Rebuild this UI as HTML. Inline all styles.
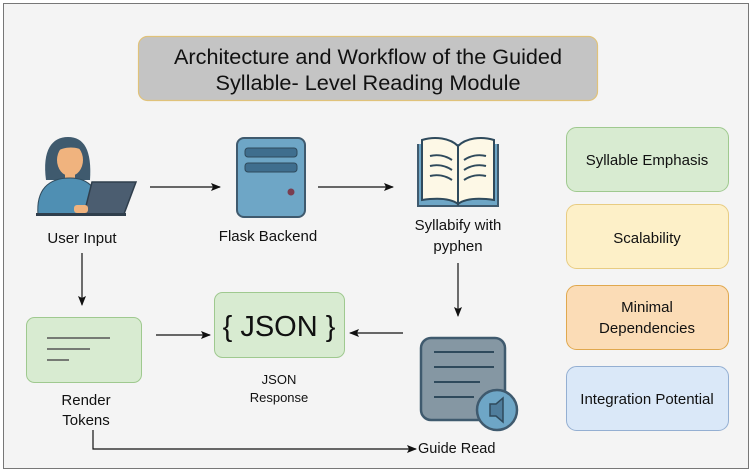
<!DOCTYPE html>
<html><head><meta charset="utf-8"><style>
html,body{margin:0;padding:0;background:#fff;}
svg{display:block;font-family:"Liberation Sans",Arial,sans-serif;}
</style></head><body>
<svg width="753" height="473" viewBox="0 0 753 473" xmlns="http://www.w3.org/2000/svg">
<defs>
<marker id="ah" markerWidth="10" markerHeight="8" refX="9" refY="4" orient="auto" markerUnits="userSpaceOnUse">
<path d="M0,0 L10,4 L0,8 L2,4 Z" fill="#111"/></marker>
</defs>
<rect x="3.5" y="3.5" width="745" height="465" fill="#f4f4f4" stroke="#777" stroke-width="1"/>
<!-- title -->
<rect x="138.5" y="36.5" width="459" height="64" rx="9" fill="#c4c4c4" stroke="#e0c27a" stroke-width="1.2"/>
<text x="368" y="64" font-size="21" text-anchor="middle" fill="#111" textLength="388" lengthAdjust="spacingAndGlyphs">Architecture and Workflow of the Guided</text>
<text x="368" y="90" font-size="21" text-anchor="middle" fill="#111" textLength="305" lengthAdjust="spacingAndGlyphs">Syllable- Level Reading Module</text>

<!-- user icon -->
<g>
<path d="M46,180 C42,150 52,137 68,137 C84,137 92,150 90,180 Z" fill="#3f5a6e"/>
<ellipse cx="70" cy="160" rx="13" ry="16" fill="#f0b37e"/>
<path d="M56,152 C58,140 82,138 85,152 C78,146 64,146 56,152 Z" fill="#3f5a6e"/>
<rect x="65" y="172" width="10" height="8" fill="#f0b37e"/>
<path d="M38,215 C36,190 48,178 70,178 C90,178 100,190 100,215 Z" fill="#4f8fb3" stroke="#2f4a5c" stroke-width="1"/>
<path d="M92,182 L136,182 L124,214 L84,214 Z" fill="#4b5d70" stroke="#2f3e4c" stroke-width="1.5"/>
<rect x="36" y="213" width="90" height="3" fill="#2f3e4c"/>
<rect x="74" y="205" width="14" height="8" rx="3" fill="#f0b37e"/>
</g>
<text x="82" y="243" font-size="15" text-anchor="middle" fill="#111">User Input</text>

<!-- server -->
<rect x="237" y="138" width="68" height="79" rx="7" fill="#6ea6c6" stroke="#3f5a6e" stroke-width="2"/>
<rect x="245" y="148" width="52" height="9" rx="3" fill="#3f6e8e" stroke="#2f4a5c"/>
<rect x="245" y="163" width="52" height="9" rx="3" fill="#3f6e8e" stroke="#2f4a5c"/>
<circle cx="291" cy="192" r="3.5" fill="#7a3e50"/>
<text x="268" y="241" font-size="15" text-anchor="middle" fill="#111">Flask Backend</text>

<!-- book -->
<path d="M418,144 L418,206 L458,206 L498,206 L498,144" fill="#6ea6c6" stroke="#3f5a6e" stroke-width="2"/>
<path d="M422,140 C435,136 450,138 458,146 L458,204 C450,198 436,198 422,200 Z" fill="#fdf8e6" stroke="#2f4a5c" stroke-width="2"/>
<path d="M494,140 C481,136 466,138 458,146 L458,204 C466,198 480,198 494,200 Z" fill="#fdf8e6" stroke="#2f4a5c" stroke-width="2"/>
<g stroke="#2f4a5c" stroke-width="2" fill="none">
<path d="M430,156 C438,154 446,156 452,160"/><path d="M430,166 C438,164 446,166 452,170"/><path d="M430,176 C438,174 446,176 452,180"/>
<path d="M486,156 C478,154 470,156 464,160"/><path d="M486,166 C478,164 470,166 464,170"/><path d="M486,176 C478,174 470,176 464,180"/>
</g>
<text x="458" y="230" font-size="15" text-anchor="middle" fill="#111">Syllabify with</text>
<text x="458" y="251" font-size="15" text-anchor="middle" fill="#111">pyphen</text>

<!-- arrows -->
<g stroke="#111" stroke-width="1.2" fill="none">
<line x1="150" y1="187" x2="220" y2="187" marker-end="url(#ah)"/>
<line x1="318" y1="187" x2="393" y2="187" marker-end="url(#ah)"/>
<line x1="82" y1="253" x2="82" y2="305" marker-end="url(#ah)"/>
<line x1="458" y1="263" x2="458" y2="316" marker-end="url(#ah)"/>
<line x1="156" y1="335" x2="210" y2="335" marker-end="url(#ah)"/>
<line x1="403" y1="333" x2="350" y2="333" marker-end="url(#ah)"/>
<polyline points="93,430 93,449 416,449" marker-end="url(#ah)"/>
</g>

<!-- render tokens -->
<rect x="26.5" y="317.5" width="115" height="65" rx="8" fill="#d8ebd1" stroke="#9fc98f" stroke-width="1"/>
<g stroke="#555" stroke-width="1.5"><line x1="47" y1="338" x2="110" y2="338"/><line x1="47" y1="349" x2="90" y2="349"/><line x1="47" y1="360" x2="69" y2="360"/></g>
<text x="86" y="405" font-size="15" text-anchor="middle" fill="#111">Render</text>
<text x="86" y="425" font-size="15" text-anchor="middle" fill="#111">Tokens</text>

<!-- json -->
<rect x="214.5" y="292.5" width="130" height="65" rx="8" fill="#d8ebd1" stroke="#9fc98f" stroke-width="1"/>
<text x="279" y="336" font-size="29" text-anchor="middle" fill="#111">{ JSON }</text>
<text x="279" y="384" font-size="13" text-anchor="middle" fill="#111">JSON</text>
<text x="279" y="402" font-size="13" text-anchor="middle" fill="#111">Response</text>

<!-- guide read icon -->
<rect x="421" y="338" width="84" height="82" rx="10" fill="#8597a3" stroke="#3f5a6e" stroke-width="2.5"/>
<g stroke="#2f4a5c" stroke-width="2"><line x1="434" y1="352" x2="494" y2="352"/><line x1="434" y1="367" x2="494" y2="367"/><line x1="434" y1="382" x2="480" y2="382"/><line x1="434" y1="397" x2="474" y2="397"/></g>
<circle cx="497" cy="410" r="20" fill="#6ea6c6" stroke="#3f5a6e" stroke-width="2.5"/>
<path d="M490,404 L496,404 L503,398 L503,422 L496,416 L490,416 Z" fill="#4f7d9c" stroke="#2f4a5c" stroke-width="1.5"/>
<text x="418" y="453" font-size="14.5" fill="#111">Guide Read</text>

<!-- right boxes -->
<rect x="566.5" y="127.5" width="162" height="64" rx="10" fill="#d8ebd1" stroke="#9fc98f"/>
<text x="647" y="165" font-size="15" text-anchor="middle" fill="#111">Syllable Emphasis</text>
<rect x="566.5" y="204.5" width="162" height="64" rx="10" fill="#fdf0c8" stroke="#e8cc82"/>
<text x="647" y="243" font-size="15" text-anchor="middle" fill="#111">Scalability</text>
<rect x="566.5" y="285.5" width="162" height="64" rx="10" fill="#fbdcb6" stroke="#e0a84e"/>
<text x="647" y="312" font-size="15" text-anchor="middle" fill="#111">Minimal</text>
<text x="647" y="333" font-size="15" text-anchor="middle" fill="#111">Dependencies</text>
<rect x="566.5" y="366.5" width="162" height="64" rx="10" fill="#dae8f8" stroke="#94afd2"/>
<text x="647" y="404" font-size="15" text-anchor="middle" fill="#111">Integration Potential</text>
</svg>
</body></html>
